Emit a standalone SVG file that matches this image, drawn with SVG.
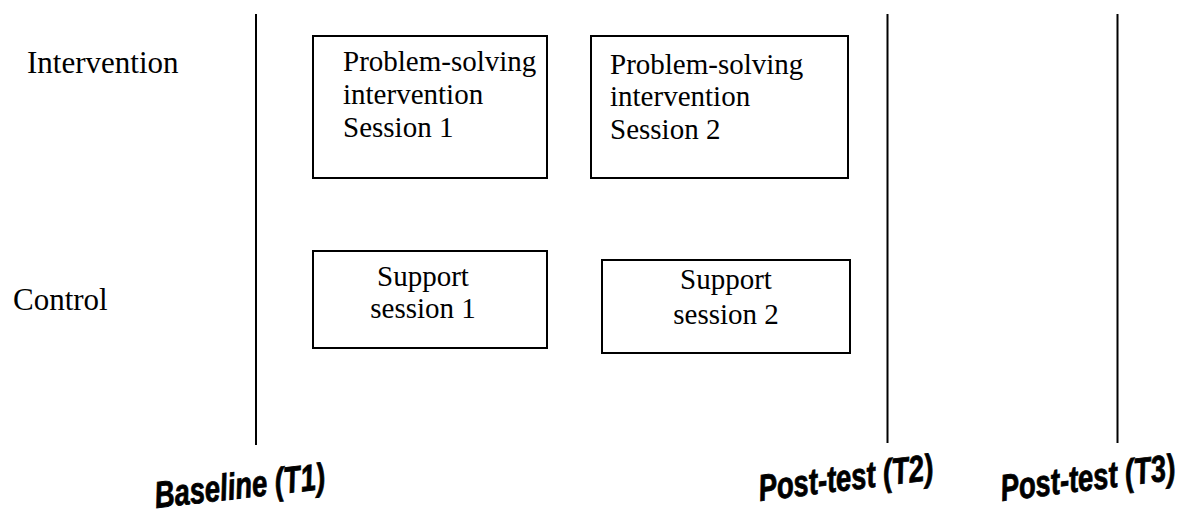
<svg xmlns="http://www.w3.org/2000/svg" width="1177" height="515" viewBox="0 0 1177 515">
<style>
.lbl{font-family:"Liberation Serif","Times New Roman",serif;font-size:31px;fill:#000}
.bt{font-family:"Liberation Serif","Times New Roman",serif;font-size:29px;fill:#000}
.box{fill:#fff;stroke:#000;stroke-width:2}
.tl{stroke:#000;stroke-width:2;fill:none}
.wa{font-family:"Liberation Sans",Arial,sans-serif;font-size:27.5px;font-weight:bold;font-style:italic;fill:#000;stroke:#000;stroke-width:0.6}
</style>
<rect width="1177" height="515" fill="#fff"/>
<g id="timelines">
<line class="tl" x1="256" y1="14" x2="256" y2="445"/>
<line class="tl" x1="887.5" y1="14" x2="887.5" y2="443"/>
<line class="tl" x1="1117.5" y1="14" x2="1117.5" y2="443"/>
</g>
<g id="label-intervention"><text class="lbl" x="27" y="73">Intervention</text></g>
<g id="label-control"><text class="lbl" x="13" y="310">Control</text></g>
<g id="ps1">
<rect class="box" x="313" y="36" width="234" height="142"/>
<text class="bt" x="343" y="71">Problem-solving</text>
<text class="bt" x="343" y="104">intervention</text>
<text class="bt" x="343" y="137">Session 1</text>
</g>
<g id="ps2">
<rect class="box" x="591" y="36" width="257" height="142"/>
<text class="bt" x="610" y="74">Problem-solving</text>
<text class="bt" x="610" y="106">intervention</text>
<text class="bt" x="610" y="139">Session 2</text>
</g>
<g id="ss1">
<rect class="box" x="313" y="251" width="234" height="97"/>
<text class="bt" x="423" y="286" text-anchor="middle">Support</text>
<text class="bt" x="423" y="318" text-anchor="middle">session 1</text>
</g>
<g id="ss2">
<rect class="box" x="602" y="260" width="248" height="93"/>
<text class="bt" x="726" y="289" text-anchor="middle">Support</text>
<text class="bt" x="726" y="324" text-anchor="middle">session 2</text>
</g>
<g id="connectors"></g>
<g id="time-labels">
<text class="wa" transform="translate(156,508) rotate(-6.5) scale(1,1.35)">Baseline (T1)</text>
<text class="wa" transform="translate(760,501) rotate(-7) scale(1,1.35)">Post-test (T2)</text>
<text class="wa" transform="translate(1002,501) rotate(-7) scale(1,1.35)">Post-test (T3)</text>
</g>
</svg>
